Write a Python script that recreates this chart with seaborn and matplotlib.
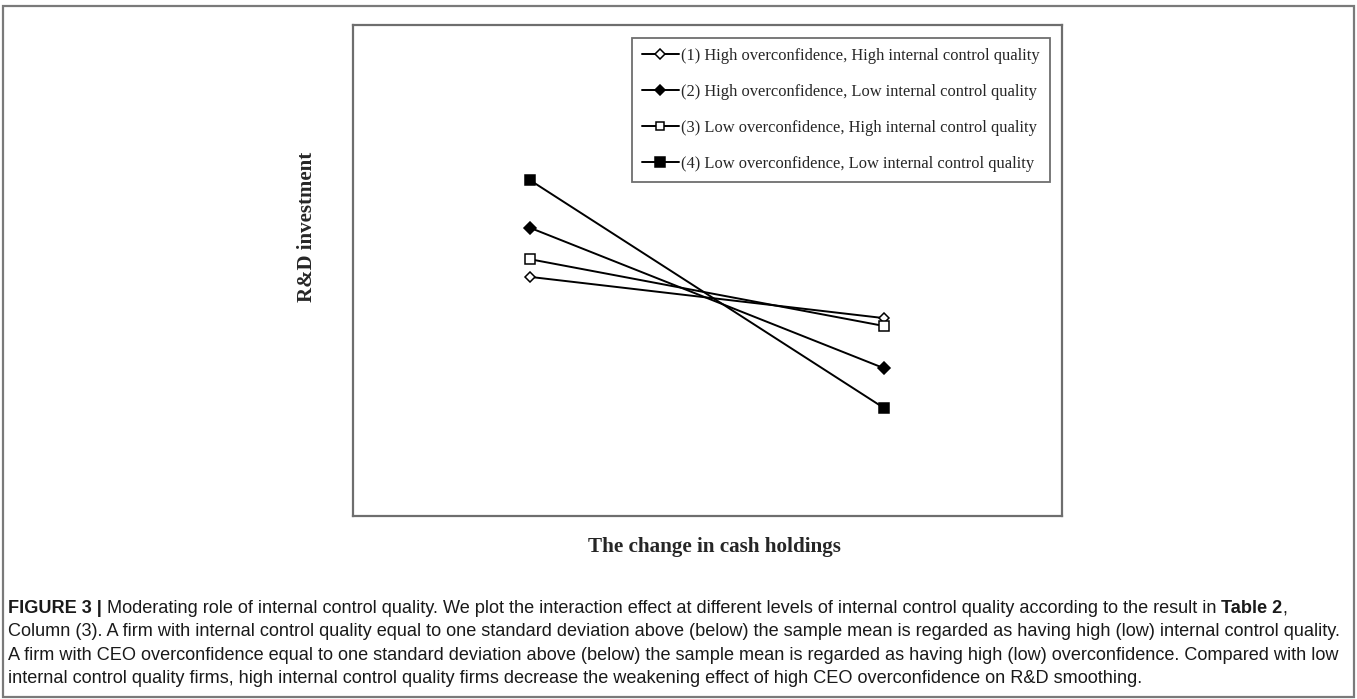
import matplotlib
matplotlib.use("Agg")
import matplotlib.pyplot as plt
import matplotlib.patches as patches
import seaborn as sns
import pandas as pd

# ── Data (arbitrary units) ───────────────────────────────────
cash_levels = ["Low", "High"]
series_labels = [
    "(1) High overconfidence, High internal control quality",
    "(2) High overconfidence, Low internal control quality",
    "(3) Low overconfidence, High internal control quality",
    "(4) Low overconfidence, Low internal control quality",
]
rd_hi_oc_hi_ic = [0.487, 0.403]
rd_hi_oc_lo_ic = [0.587, 0.301]
rd_lo_oc_hi_ic = [0.523, 0.387]
rd_lo_oc_lo_ic = [0.684, 0.220]

caption_lines = [
    [("FIGURE 3 | ", True), ("Moderating role of internal control quality. We plot the interaction effect at different levels of internal control quality according to the result in ", False), ("Table 2", True), (",", False)],
    [("Column (3). A firm with internal control quality equal to one standard deviation above (below) the sample mean is regarded as having high (low) internal control quality.", False)],
    [("A firm with CEO overconfidence equal to one standard deviation above (below) the sample mean is regarded as having high (low) overconfidence. Compared with low", False)],
    [("internal control quality firms, high internal control quality firms decrease the weakening effect of high CEO overconfidence on R&D smoothing.", False)],
]

W, H = 1357, 699
sns.set_style("white")
plt.rcParams["font.family"] = ["Liberation Serif", "DejaVu Serif"]

fig = plt.figure(figsize=(W / 100, H / 100), dpi=100)
fig.patch.set_facecolor("white")

# outer frame of the figure panel
fig.patches.append(patches.Rectangle((3 / W, 1 - 697 / H), (1354 - 3) / W, (697 - 6) / H,
                                     transform=fig.transFigure, fill=False,
                                     edgecolor="#7a7a7a", linewidth=1.6))

# ── Plot area ───────────────────────────────────────────────
left, top, right, bottom = 353, 25, 1062, 516
ax = fig.add_axes([left / W, 1 - bottom / H, (right - left) / W, (bottom - top) / H])

markers = [("D", "white"), ("D", "black"), ("s", "white"), ("s", "black")]
sizes = [5.5, 6, 6.5, 7.5]
all_series = [rd_hi_oc_hi_ic, rd_hi_oc_lo_ic, rd_lo_oc_hi_ic, rd_lo_oc_lo_ic]

for label, vals, (mk, face), ms in zip(series_labels, all_series, markers, sizes):
    df = pd.DataFrame({"cash": [0, 1], "rd": vals})
    sns.lineplot(data=df, x="cash", y="rd", ax=ax, color="black", linewidth=1.4,
                 marker=mk, markersize=ms, markerfacecolor=face,
                 markeredgecolor="black", markeredgewidth=1.1, label=label)

ax.set_xlim(-0.5, 1.503)
ax.set_ylim(0, 1)
ax.set_xticks([])
ax.set_yticks([])
ax.set_xlabel("")
ax.set_ylabel("")
for sp in ax.spines.values():
    sp.set_visible(True)
    sp.set_color("#6e6e6e")
    sp.set_linewidth(1.6)

leg = ax.legend(loc="upper left", bbox_to_anchor=((632 - left) / (right - left), 1 - (38 - top) / (bottom - top)),
                borderaxespad=0, frameon=True, fancybox=False, framealpha=1,
                edgecolor="#6e6e6e", fontsize=11.9, handlelength=2.2, handletextpad=0.15,
                labelspacing=1.2, borderpad=0.62, numpoints=1)
leg.get_frame().set_linewidth(1.3)
for h in leg.legend_handles:
    h.set_markersize(h.get_markersize() * 0.9)

# axis titles (outside the box, bold serif)
fig.text(714 / W, 1 - 547 / H, "The change in cash holdings", ha="center", va="center",
         fontsize=15.2, fontweight="bold")
fig.text(307 / W, 1 - 227 / H, "R&D investment", ha="center", va="center",
         rotation=90, fontsize=15, fontweight="bold")

# ── Caption ─────────────────────────────────────────────────
fig.canvas.draw()
renderer = fig.canvas.get_renderer()
line_y = [613, 636, 660, 683]
for parts, yp in zip(caption_lines, line_y):
    x = 8
    for txt, bold in parts:
        t = fig.text(x / W, 1 - yp / H, txt, ha="left", va="baseline", fontsize=13.1,
                     family=["Liberation Sans", "DejaVu Sans"], color="#1a1a1a",
                     fontweight="bold" if bold else "normal")
        bb = t.get_window_extent(renderer=renderer)
        x += bb.width

fig.savefig("out.png", dpi=100, facecolor="white")
